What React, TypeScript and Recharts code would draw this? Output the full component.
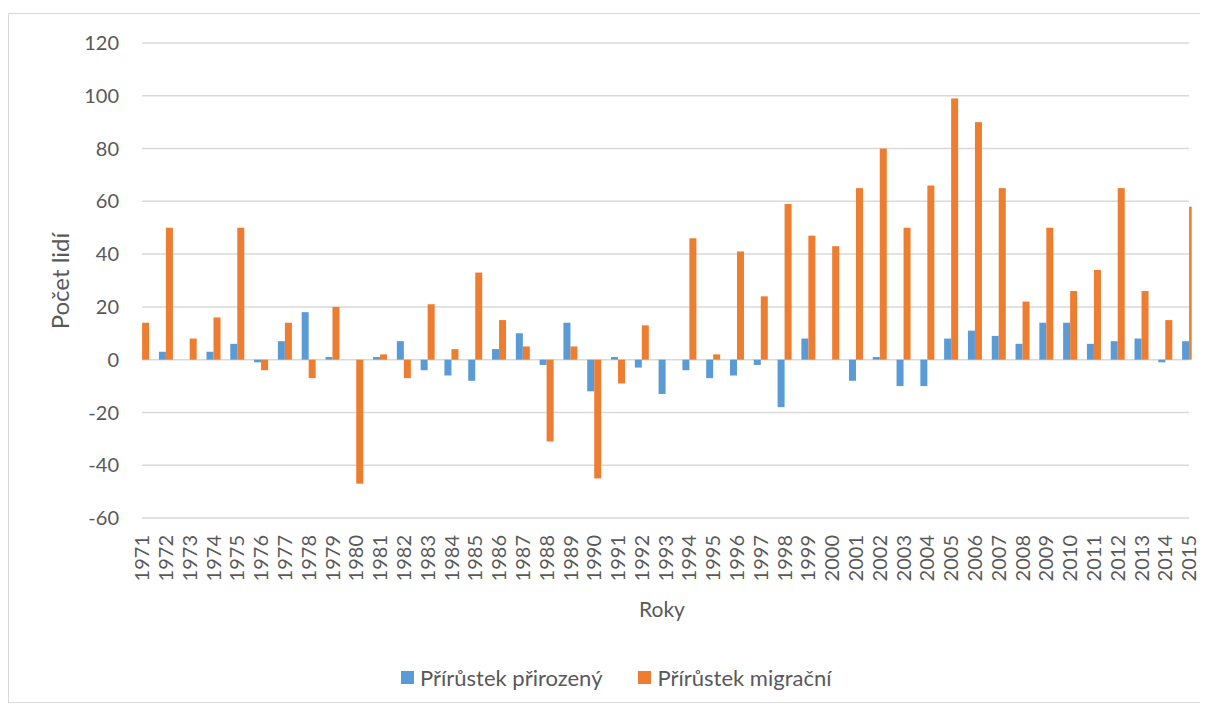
import React from 'react';
import { BarChart, Bar, XAxis, YAxis, CartesianGrid } from 'recharts';

const years = [
  1971, 1972, 1973, 1974, 1975, 1976, 1977, 1978, 1979, 1980,
  1981, 1982, 1983, 1984, 1985, 1986, 1987, 1988, 1989, 1990,
  1991, 1992, 1993, 1994, 1995, 1996, 1997, 1998, 1999, 2000,
  2001, 2002, 2003, 2004, 2005, 2006, 2007, 2008, 2009, 2010,
  2011, 2012, 2013, 2014, 2015,
];

const prirozeny = [
  0, 3, 0, 3, 6, -1, 7, 18, 1, 0,
  1, 7, -4, -6, -8, 4, 10, -2, 14, -12,
  1, -3, -13, -4, -7, -6, -2, -18, 8, 0,
  -8, 1, -10, -10, 8, 11, 9, 6, 14, 14,
  6, 7, 8, -1, 7,
];

const migracni = [
  14, 50, 8, 16, 50, -4, 14, -7, 20, -47,
  2, -7, 21, 4, 33, 15, 5, -31, 5, -45,
  -9, 13, 0, 46, 2, 41, 24, 59, 47, 43,
  65, 80, 50, 66, 99, 90, 65, 22, 50, 26,
  34, 65, 26, 15, 58,
];

const yTicks = [-60, -40, -20, 0, 20, 40, 60, 80, 100, 120];

const seriesNames = ['Přírůstek přirozený', 'Přírůstek migrační'];
const colors = ['#5B9BD5', '#ED7D31'];

const data = years.map((y, i) => ({ year: y, p: prirozeny[i], m: migracni[i] }));

const FONT = 'Lato, "Open Sans", sans-serif';
const TEXT = '#595959';
const CLIP_RIGHT = 1182.7; // chart-area edge (svg coords) beyond which bars are hidden

const ClippedBar = (props: any) => {
  const { x, y, width, height, fill } = props;
  if (width == null || height == null) return null;
  const w = Math.max(0, Math.min(width, CLIP_RIGHT - x));
  const h = Math.abs(height);
  const top = height < 0 ? y + height : y;
  if (w <= 0) return null;
  return <rect x={x} y={top} width={w} height={h} fill={fill} />;
};

const XTick = (props: any) => {
  const { x, y, payload } = props;
  return (
    <g transform={`translate(${x},${y + 9})`}>
      <text
        transform="rotate(-90)"
        textAnchor="end"
        x={0}
        y={0}
        dy="0.36em"
        fill={TEXT}
        fontSize={20}
        fontFamily={FONT}
      >
        {payload.value}
      </text>
    </g>
  );
};

export default function App() {
  return (
    <div
      style={{
        position: 'relative',
        marginTop: 5,
        width: 1200,
        height: 690,
        border: '1px solid #d9d9d9',
        borderRight: 'none',
        boxSizing: 'border-box',
        background: '#fff',
        fontFamily: FONT,
      }}
    >
      <BarChart
        width={1199}
        height={688}
        data={data}
        margin={{ top: 29, right: 19, left: 0, bottom: 110 }}
        barGap={0}
      >
        <CartesianGrid vertical={false} stroke="#d9d9d9" strokeWidth={1.5} />
        <XAxis
          dataKey="year"
          type="number"
          domain={[1971, 2015]}
          ticks={years}
          interval={0}
          axisLine={false}
          tickLine={false}
          height={74}
          tick={<XTick />}
        />
        <YAxis
          domain={[-60, 120]}
          ticks={yTicks}
          interval={0}
          width={133}
          axisLine={false}
          tickLine={false}
          tickSize={0}
          tickMargin={23}
          tick={{ fill: TEXT, fontSize: 20, fontFamily: FONT }}
        />
        <Bar dataKey="p" name={seriesNames[0]} fill={colors[0]} barSize={7} shape={<ClippedBar />} isAnimationActive={false} />
        <Bar dataKey="m" name={seriesNames[1]} fill={colors[1]} barSize={7} shape={<ClippedBar />} isAnimationActive={false} />
      </BarChart>

      <div
        style={{
          position: 'absolute',
          left: 50,
          top: 267,
          transform: 'translate(-50%, -50%) rotate(-90deg)',
          whiteSpace: 'nowrap',
          fontSize: 24,
          color: TEXT,
          pointerEvents: 'none',
        }}
      >
        Počet lidí
      </div>

      <div
        style={{
          position: 'absolute',
          left: 653,
          top: 594,
          transform: 'translate(-50%, -50%)',
          fontSize: 21,
          color: TEXT,
          whiteSpace: 'nowrap',
        }}
      >
        Roky
      </div>

      <div
        style={{
          position: 'absolute',
          left: 392,
          top: 650,
          display: 'flex',
          alignItems: 'center',
          fontSize: 22,
          color: TEXT,
          whiteSpace: 'nowrap',
        }}
      >
        {seriesNames.map((n, i) => (
          <div key={n} style={{ display: 'flex', alignItems: 'center', marginRight: i === 0 ? 36 : 0 }}>
            <span style={{ display: 'inline-block', width: 13, height: 13, background: colors[i], marginRight: 6 }} />
            <span>{n}</span>
          </div>
        ))}
      </div>
    </div>
  );
}
